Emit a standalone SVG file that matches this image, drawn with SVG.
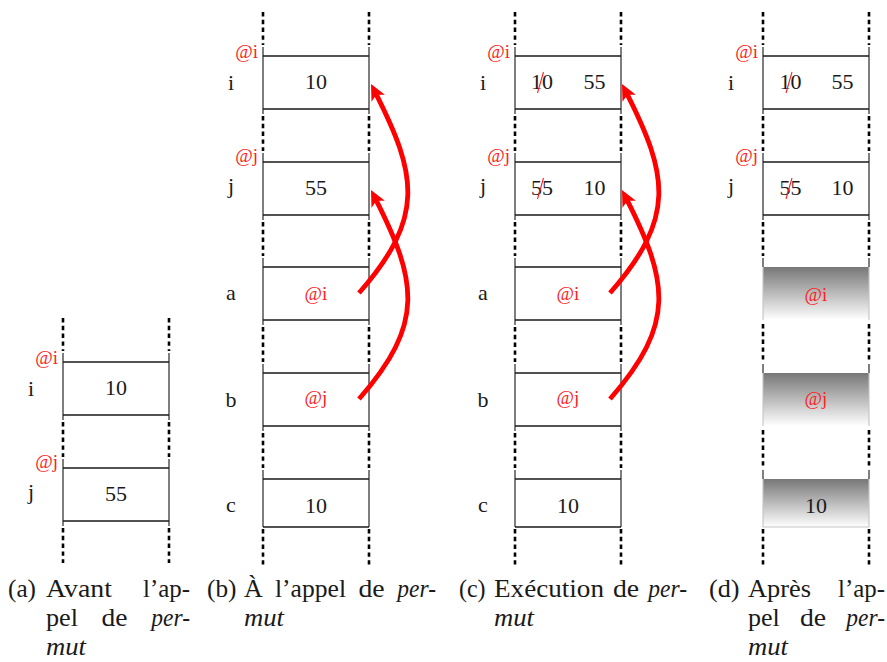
<svg xmlns="http://www.w3.org/2000/svg" width="887" height="662" viewBox="0 0 887 662">
  <defs>
    <style>
      .lane{fill:none;stroke:#000;stroke-width:2.6;stroke-dasharray:4.4 3.4}
      .side{fill:none;stroke:#3a3a3a;stroke-width:1.3}
      .edge{fill:none;stroke:#1a1a1a;stroke-width:1.3}
      .tick{fill:none;stroke:#3a3a3a;stroke-width:1.3}
      .ghost{fill:none;stroke:#c4c4c4;stroke-width:1.1}
      .cm{font-family:"Liberation Serif","Times New Roman",serif;font-size:22px;fill:#1a1a1a;text-anchor:middle}
      .addr{font-family:"Liberation Serif","Times New Roman",serif;font-size:19px;fill:#ff2020}
      .addr-in{text-anchor:middle}
      .addr-out{text-anchor:end}
      .cap{font-family:"Liberation Serif","Times New Roman",serif;font-size:25px;fill:#1a1a1a}
      .it{font-style:italic}
      .strike{stroke:#ff2020;stroke-width:1.1}
      .arrow{fill:none;stroke:#ff0000;stroke-width:4.8;marker-end:url(#head)}
    </style>
    <marker id="head" markerUnits="userSpaceOnUse" viewBox="-8 -9 20 18" refX="0" refY="0" markerWidth="20" markerHeight="18" orient="auto" overflow="visible">
      <path d="M10,0 L-6,-7.5 L-2,0 L-6,7.5 Z" fill="#ff0000"/>
    </marker>
    <linearGradient id="fade" x1="0" y1="0" x2="0" y2="1">
      <stop offset="0" stop-color="#777"/>
      <stop offset="1" stop-color="#fff"/>
    </linearGradient>
  </defs>
  <rect width="887" height="662" fill="#fff"/>

  <!-- (a) stack before the call -->
  <g id="lanes-a">
    <path class="lane" d="M63,318V351M169,318V351M63,422V457M169,422V457M63,528V563M169,528V563"/>
  </g>
  <g id="a-i">
    <path class="side" d="M63,353V420M169,353V420"/>
    <path class="edge" d="M63,362H169M63,415H169"/>
    <text class="cm" x="31" y="396">i</text>
    <text class="addr addr-out" x="58" y="364">@i</text>
    <text class="cm" x="116" y="395">10</text>
  </g>
  <g id="a-j">
    <path class="side" d="M63,459V526M169,459V526"/>
    <path class="edge" d="M63,468H169M63,521H169"/>
    <text class="cm" x="31" y="499">j</text>
    <text class="addr addr-out" x="58" y="468">@j</text>
    <text class="cm" x="116" y="501">55</text>
  </g>

  <!-- (b) stack at the call -->
  <g id="lanes-b">
    <path class="lane" d="M263,12V45M369,12V45M263,116V151M369,116V151M263,222V256M369,222V256M263,327V362M369,327V362M263,433V468M369,433V468M263,529V565M369,529V565"/>
  </g>
  <g id="b-i">
    <path class="side" d="M263,47V114M369,47V114"/>
    <path class="edge" d="M263,56H369M263,109H369"/>
    <text class="cm" x="231" y="90">i</text>
    <text class="addr addr-out" x="258" y="58">@i</text>
    <text class="cm" x="316" y="89">10</text>
  </g>
  <g id="b-j">
    <path class="side" d="M263,153V220M369,153V220"/>
    <path class="edge" d="M263,162H369M263,215H369"/>
    <text class="cm" x="231" y="193">j</text>
    <text class="addr addr-out" x="258" y="162">@j</text>
    <text class="cm" x="316" y="195">55</text>
  </g>
  <g id="b-a">
    <path class="side" d="M263,258V325M369,258V325"/>
    <path class="edge" d="M263,267H369M263,320H369"/>
    <text class="cm" x="231" y="300">a</text>
    <text class="addr addr-in" x="316" y="300">@i</text>
  </g>
  <g id="b-b">
    <path class="side" d="M263,364V431M369,364V431"/>
    <path class="edge" d="M263,373H369M263,426H369"/>
    <text class="cm" x="231" y="407">b</text>
    <text class="addr addr-in" x="316" y="404">@j</text>
  </g>
  <g id="b-c">
    <path class="side" d="M263,470V527M369,470V527"/>
    <path class="edge" d="M263,479H369M263,527H369"/>
    <text class="cm" x="231" y="512">c</text>
    <text class="cm" x="316" y="513">10</text>
  </g>

  <!-- (c) stack during the swap -->
  <g id="lanes-c">
    <path class="lane" d="M515,12V45M621,12V45M515,116V151M621,116V151M515,222V256M621,222V256M515,327V362M621,327V362M515,433V468M621,433V468M515,529V565M621,529V565"/>
  </g>
  <g id="c-i">
    <path class="side" d="M515,47V114M621,47V114"/>
    <path class="edge" d="M515,56H621M515,109H621"/>
    <text class="cm" x="483" y="90">i</text>
    <text class="addr addr-out" x="510" y="58">@i</text>
    <text class="cm" x="542" y="89">10</text>
    <line class="strike" x1="537.5" y1="93" x2="543.5" y2="72"/>
    <text class="cm" x="594.5" y="89">55</text>
  </g>
  <g id="c-j">
    <path class="side" d="M515,153V220M621,153V220"/>
    <path class="edge" d="M515,162H621M515,215H621"/>
    <text class="cm" x="483" y="193">j</text>
    <text class="addr addr-out" x="510" y="162">@j</text>
    <text class="cm" x="542" y="195">55</text>
    <line class="strike" x1="537.5" y1="199" x2="543.5" y2="178"/>
    <text class="cm" x="594.5" y="195">10</text>
  </g>
  <g id="c-a">
    <path class="side" d="M515,258V325M621,258V325"/>
    <path class="edge" d="M515,267H621M515,320H621"/>
    <text class="cm" x="483" y="300">a</text>
    <text class="addr addr-in" x="568" y="300">@i</text>
  </g>
  <g id="c-b">
    <path class="side" d="M515,364V431M621,364V431"/>
    <path class="edge" d="M515,373H621M515,426H621"/>
    <text class="cm" x="483" y="407">b</text>
    <text class="addr addr-in" x="568" y="404">@j</text>
  </g>
  <g id="c-c">
    <path class="side" d="M515,470V527M621,470V527"/>
    <path class="edge" d="M515,479H621M515,527H621"/>
    <text class="cm" x="483" y="512">c</text>
    <text class="cm" x="568" y="513">10</text>
  </g>

  <!-- (d) stack after the call: released frame fades out -->
  <g id="lanes-d">
    <path class="lane" d="M763,12V45M869,12V45M763,116V151M869,116V151M763,222V256M869,222V256M763,324V362M869,324V362M763,430V468M869,430V468M763,529V565M869,529V565"/>
  </g>
  <g id="d-i">
    <path class="side" d="M763,47V114M869,47V114"/>
    <path class="edge" d="M763,56H869M763,109H869"/>
    <text class="cm" x="731" y="90">i</text>
    <text class="addr addr-out" x="758" y="58">@i</text>
    <text class="cm" x="790.5" y="89">10</text>
    <line class="strike" x1="786" y1="93" x2="792" y2="72"/>
    <text class="cm" x="842.5" y="89">55</text>
  </g>
  <g id="d-j">
    <path class="side" d="M763,153V220M869,153V220"/>
    <path class="edge" d="M763,162H869M763,215H869"/>
    <text class="cm" x="731" y="193">j</text>
    <text class="addr addr-out" x="758" y="162">@j</text>
    <text class="cm" x="790.5" y="195">55</text>
    <line class="strike" x1="786" y1="199" x2="792" y2="178"/>
    <text class="cm" x="842.5" y="195">10</text>
  </g>
  <g id="d-a">
    <rect x="763" y="267" width="106" height="53" fill="url(#fade)"/>
    <path class="ghost" d="M763,267V320M869,267V320"/>
    <path class="tick" d="M763,258V267M869,258V267"/>
    <text class="addr addr-in" x="816" y="301">@i</text>
  </g>
  <g id="d-b">
    <rect x="763" y="373" width="106" height="53" fill="url(#fade)"/>
    <path class="ghost" d="M763,373V426M869,373V426"/>
    <path class="tick" d="M763,364V373M869,364V373"/>
    <text class="addr addr-in" x="816" y="405">@j</text>
  </g>
  <g id="d-c">
    <rect x="763" y="479" width="106" height="48" fill="url(#fade)"/>
    <path class="ghost" d="M763,479V527M869,479V527M763,527H869"/>
    <path class="tick" d="M763,470V479M869,470V479"/>
    <text class="cm" x="816" y="513">10</text>
  </g>

  <!-- pointers from the parameters back to the variables -->
  <g id="connectors">
    <path class="arrow" d="M359,293 C425.7,217.2 416.9,174.8 375.5,92.9"/>
    <path class="arrow" d="M359,399 C425.7,323.2 416.9,280.8 375.5,198.9"/>
    <path class="arrow" d="M610,293 C676.7,217.2 667.9,174.8 626.5,92.9"/>
    <path class="arrow" d="M610,399 C676.7,323.2 667.9,280.8 626.5,198.9"/>
  </g>

  <!-- sub-captions -->
  <g id="caption-a" class="cap">
    <text x="8" y="597" textLength="28" lengthAdjust="spacingAndGlyphs">(a)</text>
    <text x="46" y="597" textLength="66" lengthAdjust="spacingAndGlyphs">Avant</text>
    <text x="143" y="597" textLength="47" lengthAdjust="spacingAndGlyphs">l’ap-</text>
    <text x="46" y="626" textLength="32" lengthAdjust="spacingAndGlyphs">pel</text>
    <text x="101.5" y="626" textLength="26" lengthAdjust="spacingAndGlyphs">de</text>
    <text class="it" x="151.3" y="626" textLength="38.7" lengthAdjust="spacingAndGlyphs">per-</text>
    <text class="it" x="46" y="655" textLength="40" lengthAdjust="spacingAndGlyphs">mut</text>
  </g>
  <g id="caption-b" class="cap">
    <text x="207" y="597" textLength="29.5" lengthAdjust="spacingAndGlyphs">(b)</text>
    <text x="244" y="597" textLength="18.7" lengthAdjust="spacingAndGlyphs">À</text>
    <text x="275" y="597" textLength="71" lengthAdjust="spacingAndGlyphs">l’appel</text>
    <text x="358.5" y="597" textLength="26.2" lengthAdjust="spacingAndGlyphs">de</text>
    <text class="it" x="397.3" y="597" textLength="38.7" lengthAdjust="spacingAndGlyphs">per-</text>
    <text class="it" x="244" y="626" textLength="40" lengthAdjust="spacingAndGlyphs">mut</text>
  </g>
  <g id="caption-c" class="cap">
    <text x="459" y="597" textLength="26.6" lengthAdjust="spacingAndGlyphs">(c)</text>
    <text x="494" y="597" textLength="110" lengthAdjust="spacingAndGlyphs">Exécution</text>
    <text x="613" y="597" textLength="26.2" lengthAdjust="spacingAndGlyphs">de</text>
    <text class="it" x="648.3" y="597" textLength="38.7" lengthAdjust="spacingAndGlyphs">per-</text>
    <text class="it" x="494" y="626" textLength="40" lengthAdjust="spacingAndGlyphs">mut</text>
  </g>
  <g id="caption-d" class="cap">
    <text x="709" y="597" textLength="30.6" lengthAdjust="spacingAndGlyphs">(d)</text>
    <text x="748" y="597" textLength="63" lengthAdjust="spacingAndGlyphs">Après</text>
    <text x="838" y="597" textLength="47" lengthAdjust="spacingAndGlyphs">l’ap-</text>
    <text x="748" y="626" textLength="31.8" lengthAdjust="spacingAndGlyphs">pel</text>
    <text x="800" y="626" textLength="26.2" lengthAdjust="spacingAndGlyphs">de</text>
    <text class="it" x="846.3" y="626" textLength="38.7" lengthAdjust="spacingAndGlyphs">per-</text>
    <text class="it" x="748" y="655" textLength="40" lengthAdjust="spacingAndGlyphs">mut</text>
  </g>
</svg>
